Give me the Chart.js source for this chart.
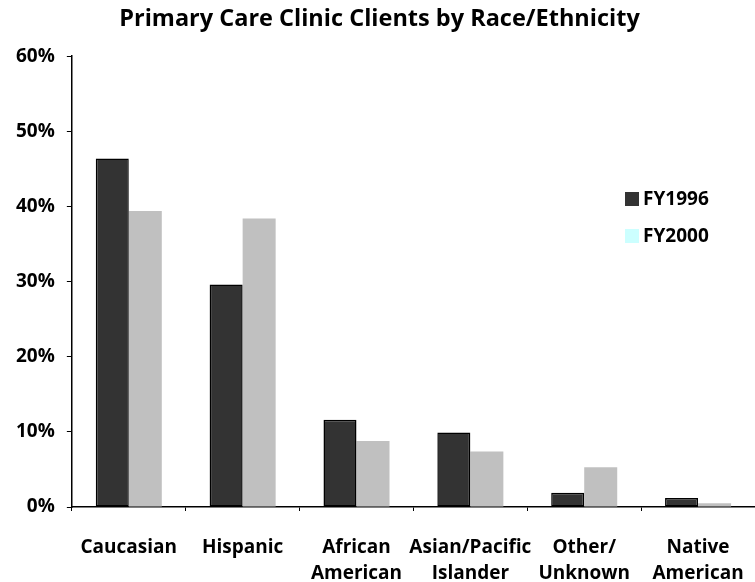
<!DOCTYPE html>
<html>
<head>
<meta charset="utf-8">
<script src="https://cdn.jsdelivr.net/npm/chart.js@4/dist/chart.umd.min.js"></script>
<style>
  html, body { margin: 0; padding: 0; background: #fff; }
  #wrap { width: 755px; height: 582px; }
</style>
</head>
<body>
<div id="wrap"><canvas id="myChart" width="755" height="582"></canvas></div>
<script>
// chart data
const categories = [
  "Caucasian", "Hispanic", ["African", "American"],
  ["Asian/Pacific", "Islander"], ["Other/", "Unknown"], ["Native", "American"]
];
const seriesNames = ["FY1996", "FY2000"];
const fy1996 = [46.4, 29.6, 11.6, 9.9, 1.9, 1.2];
const fy2000 = [39.4, 38.4, 8.8, 7.4, 5.3, 0.5];
const legendSwatches = ["#333333", "#ccffff"];

const FONT = "'Open Sans', 'DejaVu Sans', sans-serif";

// little legend drawn inside the plot, like the original
const insideLegend = {
  id: "insideLegend",
  afterDraw(chart) {
    const ctx = chart.ctx;
    const x = 625, y0 = 199, gap = 37, box = 14;
    ctx.save();
    ctx.font = "bold 19px " + FONT;
    ctx.textBaseline = "middle";
    chart.data.datasets.forEach((ds, i) => {
      const y = y0 + i * gap;
      ctx.fillStyle = legendSwatches[i];
      ctx.fillRect(x, y - box / 2, box, box);
      ctx.fillStyle = "#000";
      ctx.fillText(ds.label, x + box + 4, y + 1);
    });
    ctx.restore();
  }
};

const ctx = document.getElementById("myChart").getContext("2d");
const myChart = new Chart(ctx, {
  type: "bar",
  data: {
    labels: categories,
    datasets: [
      {
        label: seriesNames[0],
        data: fy1996,
        backgroundColor: "#333333",
        borderColor: "#000",
        borderWidth: 1.5,
        borderSkipped: false
      },
      {
        label: seriesNames[1],
        data: fy2000,
        backgroundColor: "#c0c0c0",
        borderWidth: 0
      }
    ]
  },
  options: {
    responsive: false,
    animation: false,
    categoryPercentage: 0.58,
    barPercentage: 1.0,
    layout: { padding: { top: 0, right: 0, bottom: 0, left: 4 } },
    plugins: {
      legend: { display: false },
      tooltip: { enabled: false },
      title: {
        display: true,
        text: "Primary Care Clinic Clients by Race/Ethnicity",
        color: "#000",
        font: { family: FONT, size: 23.5, weight: "bold" },
        padding: { top: 5, bottom: 23 }
      }
    },
    scales: {
      x: {
        grid: { display: true, drawOnChartArea: false, tickLength: 4, color: "#000", offset: true },
        border: { display: true, color: "#000", width: 1.5 },
        ticks: {
          color: "#000",
          padding: 24,
          maxRotation: 0,
          autoSkip: false,
          font: { family: FONT, size: 19, weight: "bold", lineHeight: 1.37 }
        },
        afterFit: (scale) => {
          // labels hang to the bottom edge in the original
          scale.height = 75;
          scale.paddingRight = 0;
          scale.paddingLeft = 0;
        }
      },
      y: {
        min: 0,
        max: 60,
        grid: { display: true, drawOnChartArea: false, tickLength: 5, color: "#000" },
        border: { display: true, color: "#000", width: 1.5 },
        ticks: {
          stepSize: 10,
          color: "#000",
          padding: 12,
          font: { family: FONT, size: 19, weight: "bold" },
          callback: (v) => v + "%"
        }
      }
    }
  },
  plugins: [insideLegend]
});
</script>
</body>
</html>
